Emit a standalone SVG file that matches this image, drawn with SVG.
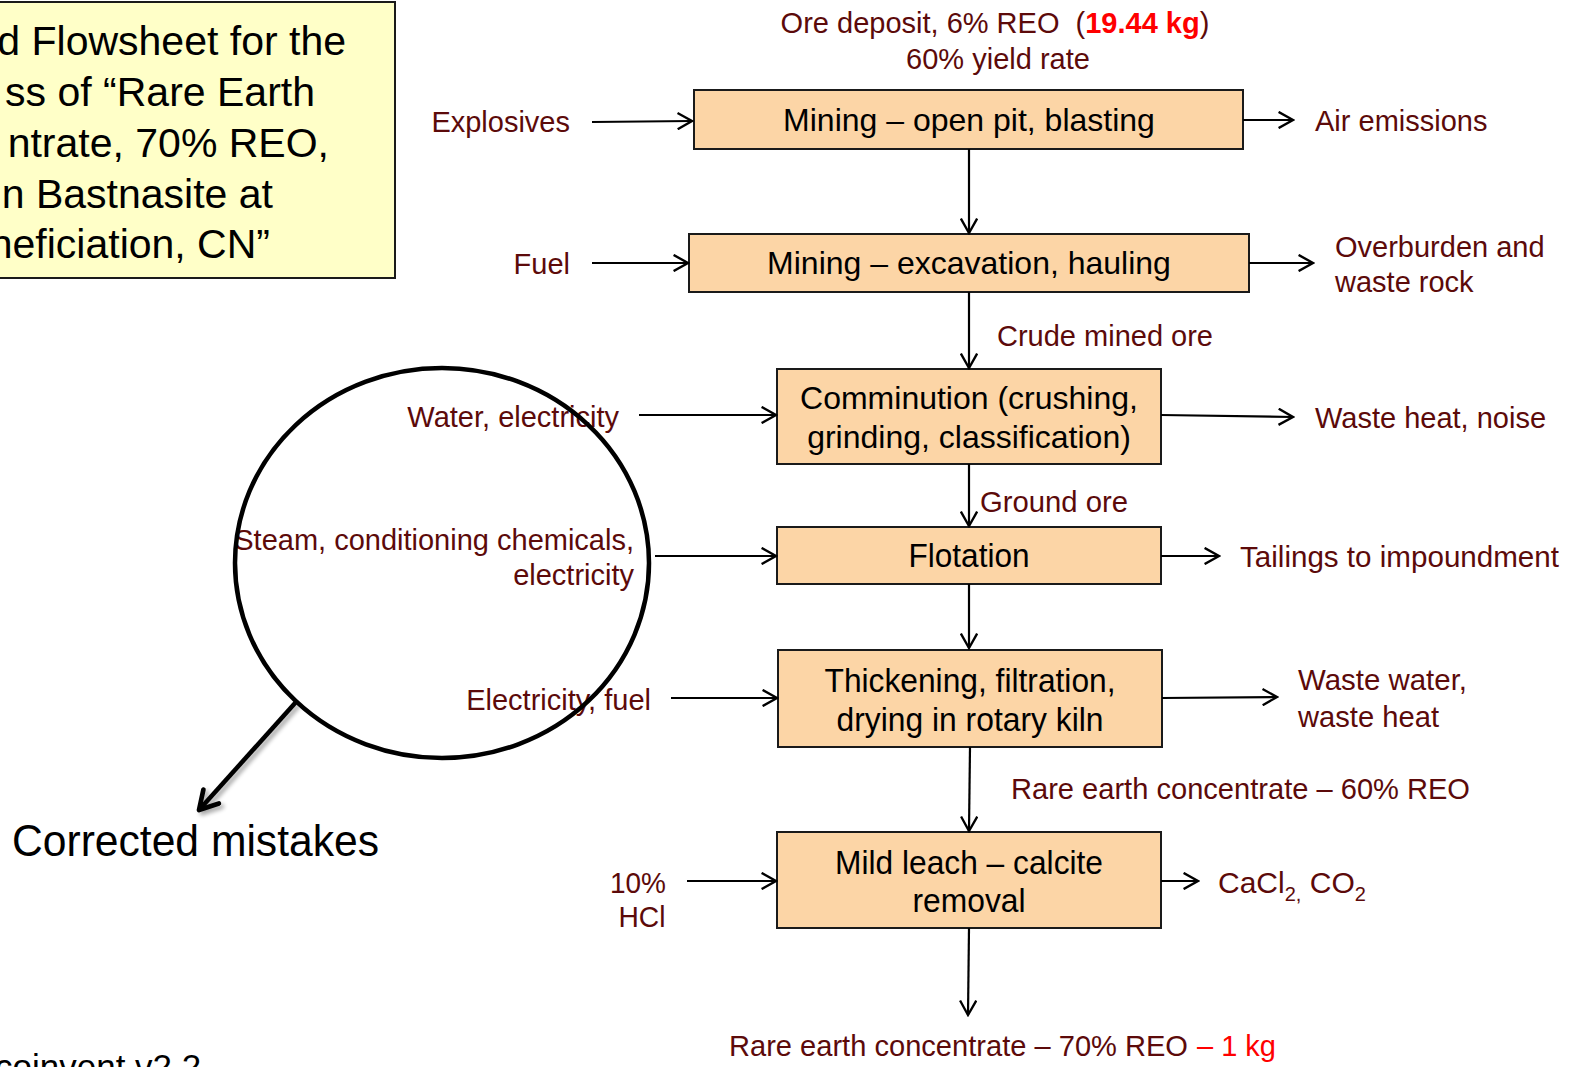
<svg xmlns="http://www.w3.org/2000/svg" width="1576" height="1067" viewBox="0 0 1576 1067">
<style>
.box{fill:#FCD5A6;stroke:#1a1a1a;stroke-width:2}
.bt{font-family:"Liberation Sans",Arial,sans-serif;font-size:32px;fill:#000;text-anchor:middle}
.btn{font-family:"Liberation Sans Narrow","Liberation Sans",Arial,sans-serif;font-size:33px;fill:#000;text-anchor:middle}
.lb{font-family:"Liberation Sans",Arial,sans-serif;font-size:29px;fill:#5C0A0A}
.lbn{font-family:"Liberation Sans Narrow","Liberation Sans",Arial,sans-serif;font-size:30px;fill:#5C0A0A}
.red{fill:#FF0000}
.con{stroke:#000;stroke-width:2.2;fill:none;marker-end:url(#ah)}
.title{font-family:"Liberation Sans",Arial,sans-serif;font-size:41px;fill:#000;text-anchor:end}
</style>
<defs>
<marker id="ah" viewBox="0 0 20 20" refX="18" refY="10" markerWidth="18" markerHeight="18" markerUnits="userSpaceOnUse" orient="auto">
<path d="M2,1 L18,10 L2,19" fill="none" stroke="#000" stroke-width="2.6"/>
</marker>
<marker id="bigah" viewBox="0 0 20 20" refX="17" refY="10" markerWidth="26" markerHeight="26" markerUnits="userSpaceOnUse" orient="auto">
<path d="M3,2 L17,10 L3,18" fill="none" stroke="#000" stroke-width="3.6" stroke-linejoin="round" stroke-linecap="round"/>
</marker>
<filter id="sh" x="-30%" y="-30%" width="170%" height="170%">
<feGaussianBlur in="SourceAlpha" stdDeviation="2"/>
<feOffset dx="3" dy="3" result="b"/>
<feComponentTransfer><feFuncA type="linear" slope="0.35"/></feComponentTransfer>
<feMerge><feMergeNode/><feMergeNode in="SourceGraphic"/></feMerge>
</filter>
</defs>
<rect width="1576" height="1067" fill="#fff"/>

<g id="title">
<rect x="-5" y="2" width="400" height="276" fill="#FFFFC8" stroke="#1a1a1a" stroke-width="2"/>
<text class="title" x="346" y="55">d Flowsheet for the</text>
<text class="title" x="315" y="106">ss of “Rare Earth</text>
<text class="title" x="329" y="157">ntrate, 70% REO,</text>
<text class="title" x="273" y="208">n Bastnasite at</text>
<text class="title" x="270" y="258">neficiation, CN”</text>
</g>

<g id="footer">
<text x="-5" y="1079" font-family="Liberation Sans, Arial, sans-serif" font-size="35" fill="#000">coinvent v2.2</text>
</g>

<g id="ore-deposit">
<text class="lb" x="995" y="33" text-anchor="middle" xml:space="preserve">Ore deposit, 6% REO  (<tspan class="red" font-weight="bold">19.44 kg</tspan>)</text>
<text class="lb" x="998" y="69" text-anchor="middle">60% yield rate</text>
</g>

<g id="n1">
<rect class="box" x="694" y="90" width="549" height="59"/>
<text class="bt" x="969" y="131">Mining – open pit, blasting</text>
</g>
<g id="n2">
<rect class="box" x="689" y="234" width="560" height="58"/>
<text class="bt" x="969" y="274">Mining – excavation, hauling</text>
</g>
<g id="n3">
<rect class="box" x="777" y="369" width="384" height="95"/>
<text class="bt" x="969" y="409">Comminution (crushing,</text>
<text class="bt" x="969" y="448">grinding, classification)</text>
</g>
<g id="n4">
<rect class="box" x="777" y="527" width="384" height="57"/>
<text class="btn" x="969" y="567" textLength="121" lengthAdjust="spacingAndGlyphs">Flotation</text>
</g>
<g id="n5">
<rect class="box" x="778" y="650" width="384" height="97"/>
<text class="btn" x="970" y="692" textLength="291" lengthAdjust="spacingAndGlyphs">Thickening, filtration,</text>
<text class="btn" x="970" y="731" textLength="267" lengthAdjust="spacingAndGlyphs">drying in rotary kiln</text>
</g>
<g id="n6">
<rect class="box" x="777" y="832" width="384" height="96"/>
<text class="btn" x="969" y="874" textLength="268" lengthAdjust="spacingAndGlyphs">Mild leach – calcite</text>
<text class="btn" x="969" y="912" textLength="113" lengthAdjust="spacingAndGlyphs">removal</text>
</g>

<g id="inputs">
<text class="lb" x="570" y="132" text-anchor="end">Explosives</text>
<text class="lb" x="570" y="274" text-anchor="end">Fuel</text>
<text class="lb" x="619" y="427" text-anchor="end">Water, electricity</text>
<text class="lb" x="634" y="550" text-anchor="end">Steam, conditioning chemicals,</text>
<text class="lb" x="634" y="585" text-anchor="end">electricity</text>
<text class="lb" x="651" y="710" text-anchor="end">Electricity, fuel</text>
<text class="lbn" x="638" y="893" text-anchor="middle" textLength="56" lengthAdjust="spacingAndGlyphs">10%</text>
<text class="lbn" x="642" y="927" text-anchor="middle" textLength="47" lengthAdjust="spacingAndGlyphs">HCl</text>
</g>

<g id="outputs">
<text class="lb" x="1315" y="131">Air emissions</text>
<text class="lb" x="1335" y="257">Overburden and</text>
<text class="lb" x="1335" y="292">waste rock</text>
<text class="lb" x="1315" y="428">Waste heat, noise</text>
<text class="lbn" x="1240" y="567" textLength="319" lengthAdjust="spacingAndGlyphs">Tailings to impoundment</text>
<text class="lbn" x="1298" y="690" textLength="169" lengthAdjust="spacingAndGlyphs">Waste water,</text>
<text class="lbn" x="1298" y="727" textLength="141" lengthAdjust="spacingAndGlyphs">waste heat</text>
<text class="lbn" x="1218" y="893">CaCl<tspan font-size="20" dy="8">2,</tspan><tspan dy="-8"> CO</tspan><tspan font-size="20" dy="8">2</tspan></text>
</g>

<g id="flow-labels">
<text class="lb" x="997" y="346">Crude mined ore</text>
<text class="lbn" x="980" y="512" textLength="148" lengthAdjust="spacingAndGlyphs">Ground ore</text>
<text class="lbn" x="1011" y="799" textLength="459" lengthAdjust="spacingAndGlyphs">Rare earth concentrate – 60% REO</text>
<text class="lbn" x="729" y="1056" textLength="459" lengthAdjust="spacingAndGlyphs">Rare earth concentrate – 70% REO</text>
<text class="lbn red" x="1197" y="1056" textLength="79" lengthAdjust="spacingAndGlyphs">– 1 kg</text>
</g>

<g id="connectors">
<line class="con" x1="592" y1="122" x2="692" y2="121"/>
<line class="con" x1="1243" y1="120" x2="1293" y2="120"/>
<line class="con" x1="969" y1="149" x2="969" y2="233"/>
<line class="con" x1="592" y1="263" x2="688" y2="263"/>
<line class="con" x1="1249" y1="263" x2="1313" y2="263"/>
<line class="con" x1="969" y1="292" x2="969" y2="368"/>
<line class="con" x1="639" y1="415" x2="776" y2="415"/>
<line class="con" x1="1161" y1="415" x2="1293" y2="417"/>
<line class="con" x1="969" y1="464" x2="969" y2="526"/>
<line class="con" x1="655" y1="556" x2="776" y2="556"/>
<line class="con" x1="1161" y1="556" x2="1219" y2="556"/>
<line class="con" x1="969" y1="584" x2="969" y2="648"/>
<line class="con" x1="671" y1="698" x2="777" y2="698"/>
<line class="con" x1="1162" y1="698" x2="1277" y2="697"/>
<line class="con" x1="970" y1="747" x2="969" y2="831"/>
<line class="con" x1="687" y1="881" x2="776" y2="881"/>
<line class="con" x1="1161" y1="881" x2="1198" y2="881"/>
<line class="con" x1="969" y1="928" x2="968" y2="1015"/>
</g>

<g id="callout">
<ellipse cx="442" cy="563" rx="207" ry="195" fill="none" stroke="#000" stroke-width="4.5"/>
<line x1="296" y1="702" x2="199" y2="810" stroke="#000" stroke-width="4.5" marker-end="url(#bigah)" filter="url(#sh)"/>
<text x="12" y="856" font-family="Liberation Sans Narrow, Liberation Sans, Arial, sans-serif" font-size="44" fill="#000" textLength="367" lengthAdjust="spacingAndGlyphs">Corrected mistakes</text>
</g>
</svg>
